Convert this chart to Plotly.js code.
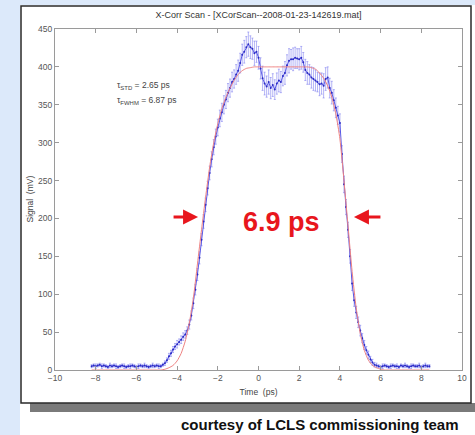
<!DOCTYPE html>
<html>
<head>
<meta charset="utf-8">
<script src="https://cdn.plot.ly/plotly-3.0.1.min.js"></script>
<style>
  html, body { margin: 0; padding: 0; background: #ffffff; }
  #chart { width: 475px; height: 435px; }
</style>
</head>
<body>
<div id="chart"></div>
<script>
// Cross-correlation scan: measured signal (mV) with error bars versus delay time (ps)
const time = [
  -8.2,-8.1,-8.0,-7.9,-7.8,-7.7,-7.6,-7.5,-7.4,-7.3,-7.2,-7.1,-7.0,-6.9,-6.8,-6.7,-6.6,-6.5,-6.4,-6.3,
  -6.2,-6.1,-6.0,-5.9,-5.8,-5.7,-5.6,-5.5,-5.4,-5.3,-5.2,-5.1,-5.0,-4.9,-4.8,-4.7,
  -4.6,-4.5,-4.4,-4.3,-4.2,-4.1,-4.0,-3.9,-3.8,-3.7,-3.6,-3.5,-3.4,-3.3,-3.2,-3.1,-3.0,-2.9,-2.8,-2.7,
  -2.6,-2.5,-2.4,-2.3,-2.2,-2.1,-2.0,-1.9,-1.8,-1.7,-1.6,-1.5,-1.4,-1.3,-1.2,-1.1,-1.0,-0.9,-0.8,-0.7,
  -0.6,-0.5,-0.4,-0.3,-0.2,-0.1,
  0.0,0.1,0.2,0.3,0.4,0.5,0.6,0.7,0.8,0.9,1.0,1.1,1.2,1.3,1.4,1.5,1.6,1.7,1.8,1.9,
  2.0,2.1,2.2,2.3,2.4,2.5,2.6,2.7,2.8,2.9,3.0,3.1,3.2,3.3,3.4,3.5,3.6,3.7,3.8,3.9,
  4.0,4.1,4.2,4.3,4.4,4.5,4.6,4.7,4.8,4.9,5.0,5.1,5.2,5.3,5.4,5.5,5.6,5.7,5.8,
  5.9,6.0,6.1,6.2,6.3,6.4,6.5,6.6,6.7,6.8,6.9,7.0,7.1,7.2,7.3,7.4,7.5,7.6,7.7,7.8,
  7.9,8.0,8.1,8.2,8.3,8.4
];
const signal = [
  5,6,5,6,7,5,6,5,4,6,5,6,5,4,5,6,5,4,5,5,
  6,5,4,5,6,5,6,5,4,5,6,5,6,5,5,7,
  9,13,18,22,27,31,34,37,40,44,47,52,60,72,88,106,126,148,172,196,
  218,240,260,278,294,308,320,332,340,350,357,366,372,380,384,390,395,405,416,420,
  426,430,426,424,418,420,
  412,398,385,378,374,380,372,376,370,378,382,380,388,392,402,408,410,410,412,411,
  410,412,406,396,392,390,386,384,382,380,377,378,375,384,386,372,366,356,346,336,
  326,285,245,215,185,150,114,92,76,63,52,42,33,26,20,14,10,7,6,
  5,4,5,6,5,4,5,6,5,5,4,6,5,6,5,4,5,6,5,5,
  6,4,5,6,5,5
];
const signalError = [
  2,2,3,2,2,3,2,2,2,3,2,2,3,2,2,2,3,2,2,3,
  2,2,2,3,2,2,3,2,2,2,3,2,2,3,2,2,
  3,3,4,4,4,4,5,4,5,5,5,5,6,6,7,7,8,8,8,9,
  9,9,9,10,10,10,11,11,12,12,12,12,12,13,12,13,14,13,14,15,
  14,16,15,14,16,14,
  15,14,16,15,14,16,14,15,13,14,15,14,13,15,14,16,13,15,14,13,
  14,15,13,14,15,13,14,15,14,13,15,14,16,15,14,13,15,14,13,12,
  12,11,11,10,10,9,9,8,8,7,7,6,6,5,5,4,4,3,3,
  2,2,3,2,2,2,3,2,2,3,2,2,2,3,2,2,3,2,2,2,
  3,2,2,3,2,2
];

// Flat-top fit to the scan
const fitTime = [
  -8.2,-8.0,-7.8,-7.6,-7.4,-7.2,-7.0,-6.8,-6.6,-6.4,-6.2,-6.0,-5.8,-5.6,-5.4,-5.2,-5.0,-4.8,
  -4.6,-4.4,-4.2,-4.0,-3.8,-3.6,-3.4,-3.2,-3.0,-2.8,-2.6,-2.4,-2.2,-2.0,-1.8,-1.6,-1.4,-1.2,-1.0,-0.8,-0.6,-0.4,
  -0.2,0.0,0.2,0.4,0.6,0.8,1.0,1.2,1.4,1.6,1.8,2.0,2.2,2.4,
  2.6,2.8,3.0,3.2,3.4,3.6,3.8,4.0,4.2,4.4,4.6,4.8,5.0,5.2,5.4,5.6,5.8,6.0,
  6.2,6.4,6.6,6.8,7.0,7.2,7.4,7.6,7.8,8.0,8.2,8.4
];
const fitSignal = [
  0,0,0,0,0,0,0,0,0,0,0,0,0,0,0,0,0,0,
  1,3,6,12,22,38,62,95,140,185,228,268,300,325,345,360,372,382,390,395,398,399,
  400,400,400,400,400,400,400,400,400,400,400,400,400,400,
  399,397,392,385,375,360,338,305,250,190,130,82,48,26,13,6,3,1,
  0,0,0,0,0,0,0,0,0,0,0,0
];

// Axis ticks and summary labels
const xTicks = [-10,-8,-6,-4,-2,0,2,4,6,8,10];
const yTicks = [0,50,100,150,200,250,300,350,400,450];
const tauStd = 2.65;
const tauFwhm = 6.87;
const widthLabel = '6.9 ps';
const halfMaxLevel = 202;
const leftEdgeTime = -2.97;
const rightEdgeTime = 4.69;

// Page geometry (pixels) and plot area placement
const W = 475, H = 435;
const M = { l: 55, r: 13, t: 29, b: 65 };
const plotW = W - M.l - M.r, plotH = H - M.t - M.b;
const px = x => (x - M.l) / plotW;          // page pixel x -> paper x
const py = y => (H - M.b - y) / plotH;      // page pixel y -> paper y

const FONT = 'Liberation Sans, Arial, Helvetica, sans-serif';
const RED = '#e8161d';

const traces = [
  {
    type: 'scatter', mode: 'lines+markers',
    x: time, y: signal,
    line: { color: '#4848e2', width: 0.9 },
    marker: { color: '#2a2ac4', size: 2 },
    error_y: { type: 'data', array: signalError, visible: true,
               color: 'rgba(120,120,238,0.7)', thickness: 0.8, width: 1 },
    hoverinfo: 'x+y', showlegend: false
  },
  {
    type: 'scatter', mode: 'lines',
    x: fitTime, y: fitSignal,
    line: { color: '#ee8282', width: 1, shape: 'spline', smoothing: 0.6 },
    hoverinfo: 'x+y', showlegend: false
  }
];

const axisCommon = {
  showgrid: false, zeroline: false, showline: true, mirror: 'ticks',
  linecolor: '#9a9a9a', linewidth: 1,
  ticks: 'inside', ticklen: 4, tickcolor: '#9a9a9a', tickwidth: 1,
  tickfont: { family: FONT, size: 8.5, color: '#555' },
  automargin: false, fixedrange: true
};

const layout = {
  width: W, height: H,
  margin: M,
  paper_bgcolor: '#dce9fa',
  plot_bgcolor: 'rgba(0,0,0,0)',
  font: { family: FONT, color: '#333' },
  title: {
    text: 'X-Corr Scan - [XCorScan--2008-01-23-142619.mat]',
    font: { family: FONT, size: 9, color: '#333' },
    x: 0.5, xref: 'paper', y: 1 - 15 / H, yref: 'container', yanchor: 'middle'
  },
  xaxis: Object.assign({}, axisCommon, {
    range: [-10, 10], tickmode: 'array', tickvals: xTicks,
    title: { text: 'Time  (ps)', font: { family: FONT, size: 8.5, color: '#444' }, standoff: 6 }
  }),
  yaxis: Object.assign({}, axisCommon, {
    range: [0, 450], tickmode: 'array', tickvals: yTicks
  }),
  shapes: [
    // white page area
    { type: 'rect', xref: 'paper', yref: 'paper', layer: 'below',
      x0: px(20), x1: px(W + 2), y0: py(5), y1: py(H + 2),
      fillcolor: '#ffffff', line: { width: 0 } },
    // drop shadow under the figure frame
    { type: 'rect', xref: 'paper', yref: 'paper', layer: 'below',
      x0: px(30), x1: px(W + 2), y0: py(403), y1: py(412),
      fillcolor: '#7a7a7a', line: { width: 0 } },
    // figure frame
    { type: 'rect', xref: 'paper', yref: 'paper', layer: 'below',
      x0: px(21), x1: px(471), y0: py(6), y1: py(403),
      fillcolor: '#ffffff', line: { color: '#2a2a2a', width: 1.5 } }
  ],
  annotations: [
    // y-axis title
    { xref: 'paper', yref: 'paper', x: px(29), y: 0.5, xanchor: 'center', yanchor: 'middle',
      text: 'Signal  (mV)', textangle: -90, showarrow: false,
      font: { family: FONT, size: 8.5, color: '#444' } },
    { xref: 'x', yref: 'y', x: -7.05, y: 375, xanchor: 'left', yanchor: 'middle',
      text: 'τ<sub>STD</sub> = ' + tauStd.toFixed(2) + ' ps', showarrow: false,
      font: { family: FONT, size: 8.5, color: '#444' } },
    { xref: 'x', yref: 'y', x: -7.05, y: 356, xanchor: 'left', yanchor: 'middle',
      text: 'τ<sub>FWHM</sub> = ' + tauFwhm.toFixed(2) + ' ps', showarrow: false,
      font: { family: FONT, size: 8.5, color: '#444' } },
    { xref: 'x', yref: 'y', x: 1.15, y: 195, xanchor: 'center', yanchor: 'middle',
      text: '<b>' + widthLabel + '</b>', showarrow: false,
      font: { family: FONT, size: 27, color: RED } },
    { xref: 'x', yref: 'y', x: leftEdgeTime, y: halfMaxLevel, text: '',
      showarrow: true, ax: -26, ay: 0, arrowcolor: RED, arrowwidth: 3, arrowhead: 2, arrowsize: 1 },
    { xref: 'x', yref: 'y', x: rightEdgeTime, y: halfMaxLevel, text: '',
      showarrow: true, ax: 28, ay: 0, arrowcolor: RED, arrowwidth: 3, arrowhead: 2, arrowsize: 1 },
    { xref: 'paper', yref: 'paper', x: px(320), y: py(424), xanchor: 'center', yanchor: 'middle',
      text: '<b>courtesy of LCLS commissioning team</b>', showarrow: false,
      font: { family: FONT, size: 15, color: '#111' } }
  ]
};

Plotly.newPlot('chart', traces, layout, { staticPlot: true, displayModeBar: false });
</script>
</body>
</html>
